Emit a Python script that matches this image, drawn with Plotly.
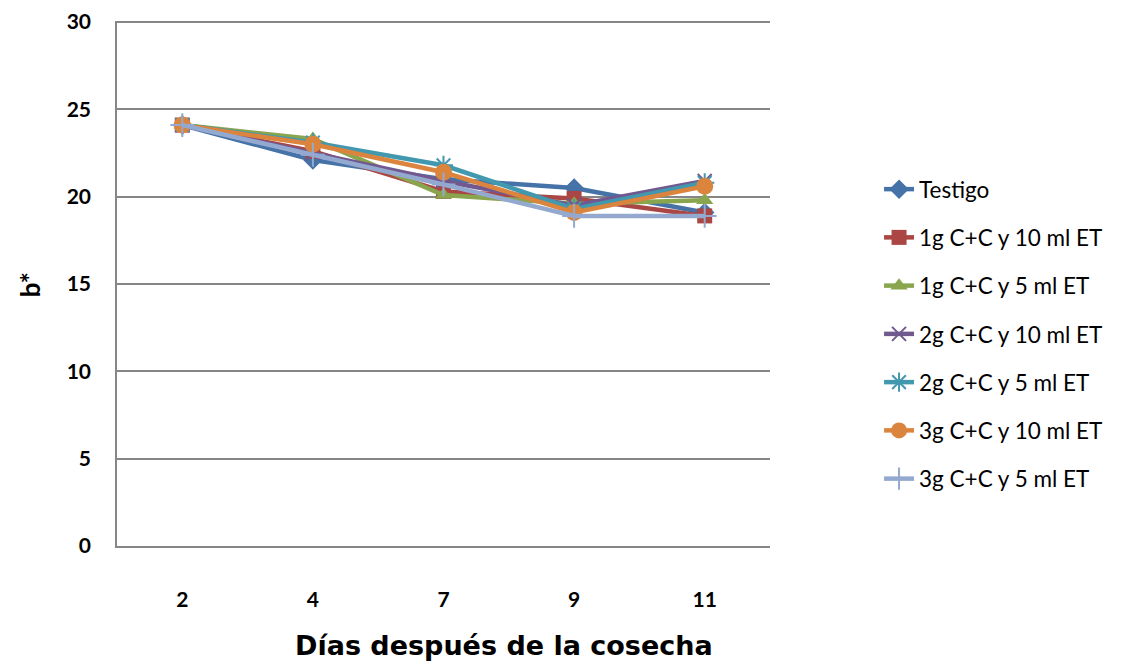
import plotly.graph_objects as go

days = ["2", "4", "7", "9", "11"]
series_names = ["Testigo", "1g C+C y 10 ml ET", "1g C+C y 5 ml ET", "2g C+C y 10 ml ET",
                "2g C+C y 5 ml ET", "3g C+C y 10 ml ET", "3g C+C y 5 ml ET"]
testigo = [24.1, 22.1, 21.0, 20.5, 19.1]
g1_10 = [24.1, 22.6, 20.3, 19.9, 18.9]
g1_5 = [24.1, 23.3, 20.1, 19.6, 19.8]
g2_10 = [24.1, 22.5, 20.9, 19.5, 20.9]
g2_5 = [24.1, 23.1, 21.8, 19.3, 20.8]
g3_10 = [24.1, 23.0, 21.4, 19.1, 20.6]
g3_5 = [24.1, 22.4, 20.7, 18.9, 18.9]

values = [testigo, g1_10, g1_5, g2_10, g2_5, g3_10, g3_5]
colors = ["#4572A7", "#AA4643", "#89A54E", "#71588F", "#4198AF", "#DB843D", "#93A9CF"]
symbols = ["diamond", "square", "triangle-up", "x-thin", "asterisk", "circle", "cross-thin"]
sizes = [15, 15, 15, 14, 16, 17, 17]

fig = go.Figure()
for i, (name, vals) in enumerate(zip(series_names, values)):
    thin = symbols[i] in ("x-thin", "asterisk", "cross-thin")
    fig.add_trace(go.Scatter(
        x=days, y=vals, name=name, mode="lines+markers", legendgroup=name,
        line=dict(color=colors[i], width=4.5),
        marker=dict(symbol=symbols[i], size=sizes[i], color=colors[i],
                    line=dict(color=colors[i], width=2 if thin else 0)),
    ))

# page body has an 8px default margin: compensate so plot area sits at x 117-770, y 21-546
fig.update_layout(
    width=1125, height=666,
    margin=dict(l=109, r=363, t=13, b=128, autoexpand=False),
    paper_bgcolor="white", plot_bgcolor="white",
    showlegend=True,
    legend=dict(x=1.167, y=0.72, xanchor="left", yanchor="top",
                font=dict(family="Lato, Open Sans, sans-serif", size=22.5, color="black"),
                tracegroupgap=16, traceorder="grouped", bgcolor="rgba(0,0,0,0)"),
    xaxis=dict(type="category", showgrid=False, showline=True, linecolor="#868686", linewidth=1.5,
               tickfont=dict(family="Lato, sans-serif", size=21, color="black", weight="bold"),
               ticks="", ticklabelstandoff=34, range=[-0.5, 4.5]),
    yaxis=dict(range=[0, 30.06], tick0=0, dtick=5, showgrid=True, gridcolor="#868686", gridwidth=1.5,
               showline=True, linecolor="#868686", linewidth=1.5, zeroline=False,
               tickfont=dict(family="Lato, sans-serif", size=21, color="black", weight="bold"),
               ticks="", ticklabelstandoff=20, ticklabeloverflow="allow"),
    annotations=[
        dict(text="<b>Días después de la cosecha</b>", x=0.593, y=-0.189, xref="paper", yref="paper",
             xanchor="center", yanchor="middle",
             showarrow=False, font=dict(family="DejaVu Sans, sans-serif", size=27, color="black")),
        dict(text="<b>b*</b>", x=-0.133, y=0.497, xref="paper", yref="paper", textangle=-90,
             xanchor="center", yanchor="middle",
             showarrow=False, font=dict(family="Lato, sans-serif", size=26, color="black")),
    ],
)

fig.write_html("out.html")
